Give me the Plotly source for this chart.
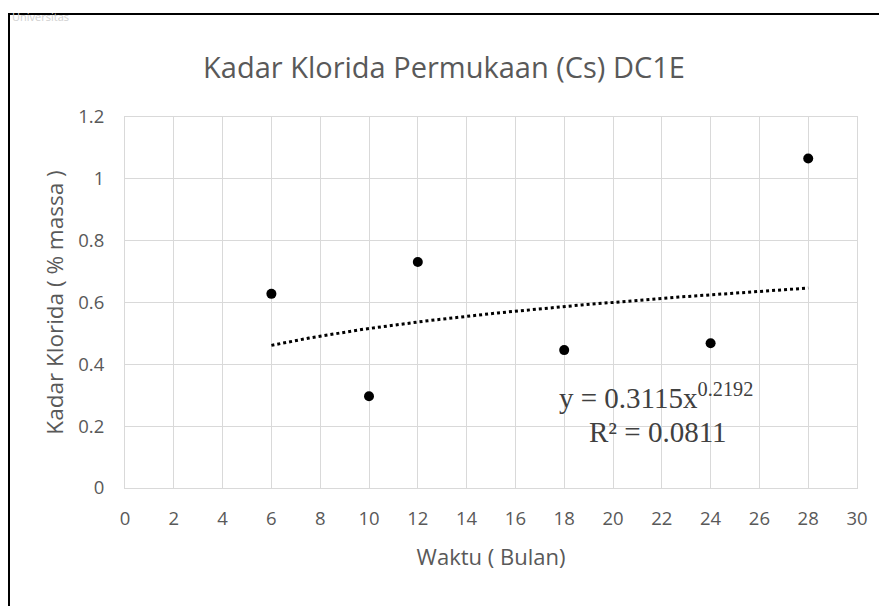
import numpy as np
import plotly.graph_objects as go

# Data
waktu = [6, 10, 12, 18, 24, 28]
klorida = [0.628, 0.297, 0.731, 0.446, 0.468, 1.066]
coef_a = 0.3115
coef_b = 0.2192
r2 = 0.0811
x_ticks = list(range(0, 31, 2))
y_ticks = [0, 0.2, 0.4, 0.6, 0.8, 1.0, 1.2]
y_ticktext = ["0", "0.2", "0.4", "0.6", "0.8", "1", "1.2"]

trend_x = np.linspace(min(waktu), max(waktu), 200)
trend_y = coef_a * trend_x ** coef_b

# Figure geometry (page has an 8px body margin, so the figure is 879x598)
W, H = 879, 598
L, R, T, B = 117, 30, 109, 118
PW, PH = W - L - R, H - T - B

fig = go.Figure()
fig.add_trace(go.Scatter(x=trend_x, y=trend_y, mode="lines",
                         line=dict(color="black", width=3, dash="dot"),
                         hoverinfo="skip", showlegend=False))
fig.add_trace(go.Scatter(x=waktu, y=klorida, mode="markers",
                         marker=dict(color="black", size=10),
                         showlegend=False))

grey = "#595959"
sans = "Open Sans, Lato, sans-serif"
serif = "Liberation Serif, Times New Roman, serif"
fig.update_layout(
    width=W, height=H,
    margin=dict(l=L, r=R, t=T, b=B),
    paper_bgcolor="white", plot_bgcolor="white",
    font=dict(family=sans, color=grey),
    title=dict(text="Kadar Klorida Permukaan (Cs) DC1E", x=(444 - 8) / W, xanchor="center",
               y=1 - 60 / H, yanchor="middle",
               font=dict(size=29, color=grey, family=sans)),
    xaxis=dict(range=[0, 30], tickvals=x_ticks, showgrid=True, gridcolor="#d9d9d9",
               gridwidth=1, zeroline=False, showline=True, linecolor="#d9d9d9",
               ticks="", tickfont=dict(size=18.5, color=grey), ticklabelstandoff=14,
               title=dict(text="Waktu ( Bulan)", font=dict(size=22, color=grey), standoff=20),
               mirror=True),
    yaxis=dict(range=[0, 1.2], tickvals=y_ticks, ticktext=y_ticktext, showgrid=True,
               gridcolor="#d9d9d9", gridwidth=1, zeroline=False, showline=True,
               linecolor="#d9d9d9", ticks="", tickfont=dict(size=18.5, color=grey),
               ticklabelstandoff=16,
               title=dict(text="Kadar Klorida ( % massa )", font=dict(size=22.5, color=grey), standoff=8),
               mirror=True),
)

# Trendline equation
fig.add_annotation(x=17.7, y=0.298, xref="x", yref="y", xanchor="left", yanchor="middle",
                   text=f"y = {coef_a}x<sup>{coef_b}</sup>", showarrow=False,
                   font=dict(family=serif, size=29, color="#404040"))
fig.add_annotation(x=18.95, y=0.18, xref="x", yref="y", xanchor="left", yanchor="middle",
                   text=f"R² = {r2}", showarrow=False,
                   font=dict(family=serif, size=29, color="#404040"))

# Faint watermark at the top left, above the frame
fig.add_annotation(x=(2 - L) / PW, y=(PH + T + 1) / PH, xref="paper", yref="paper",
                   xanchor="left", yanchor="top", showarrow=False,
                   text="Universitas", font=dict(size=11, color="#cfcfcf", family=sans))

# Outer chart frame
fig.add_shape(type="rect", xref="paper", yref="paper",
              x0=(1 - L) / PW, x1=(W + 20 - L) / PW,
              y0=(PH - (H + 20 - T)) / PH, y1=(PH + T - 6) / PH,
              line=dict(color="black", width=2), layer="below")

fig.write_html("out.html")
